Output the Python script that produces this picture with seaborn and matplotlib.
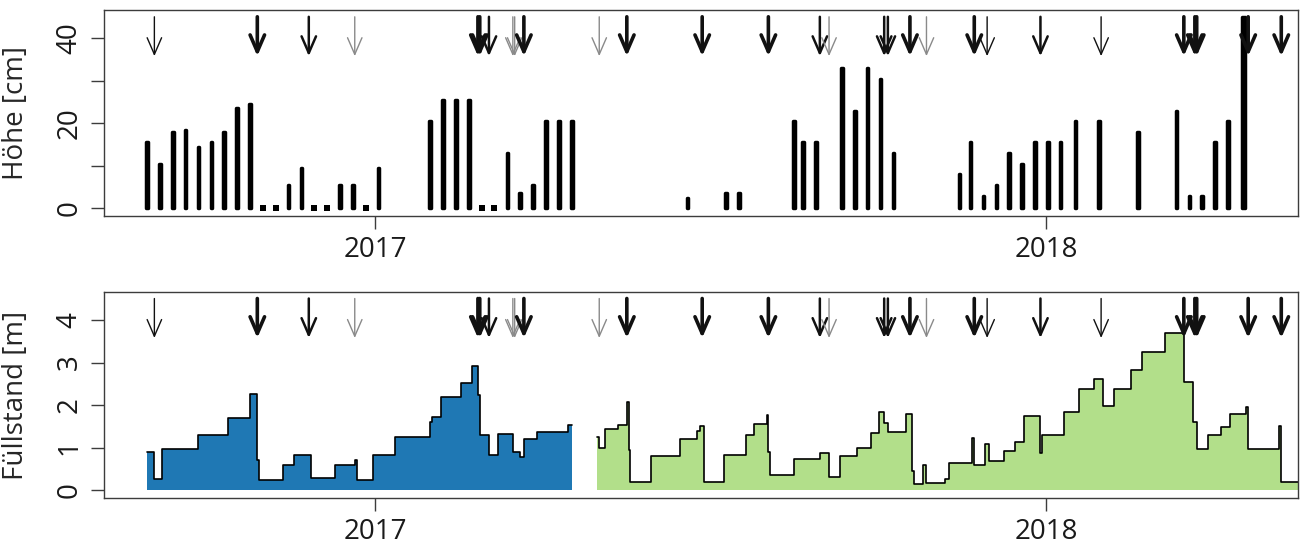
import matplotlib
matplotlib.use("Agg")
import matplotlib.pyplot as plt
import matplotlib.dates as mdates
import matplotlib.transforms as mtransforms
import numpy as np
import pandas as pd
import seaborn as sns

# Weekly snow depth readings [cm]
snow_dates = [
    "2016-08-30", "2016-09-06", "2016-09-13", "2016-09-20", "2016-09-27",
    "2016-10-04", "2016-10-11", "2016-10-18", "2016-10-25", "2016-11-01",
    "2016-11-08", "2016-11-15", "2016-11-22", "2016-11-29", "2016-12-06",
    "2016-12-13", "2016-12-20", "2016-12-27", "2017-01-03",
    "2017-01-31", "2017-02-07", "2017-02-14", "2017-02-21", "2017-02-28",
    "2017-03-07", "2017-03-14", "2017-03-21", "2017-03-28", "2017-04-04",
    "2017-04-11", "2017-04-18",
    "2017-06-20", "2017-07-11", "2017-07-18", "2017-08-17", "2017-08-22",
    "2017-08-29", "2017-09-12", "2017-09-19", "2017-09-26", "2017-10-03",
    "2017-10-10", "2017-11-15", "2017-11-21", "2017-11-28", "2017-12-05",
    "2017-12-12", "2017-12-19", "2017-12-26", "2018-01-02", "2018-01-09",
    "2018-01-17", "2018-01-30", "2018-02-20", "2018-03-13", "2018-03-20",
    "2018-03-27", "2018-04-03", "2018-04-10", "2018-04-18", "2018-04-19",
]
snow_depth = [
    15.5, 10.5, 18, 18.5, 14.5,
    15.5, 18, 23.5, 24.5, 0,
    0, 5.5, 9.5, 0, 0,
    5.5, 5.5, 0, 9.5,
    20.5, 25.5, 25.5, 25.5, 0,
    0, 13, 3.5, 5.5, 20.5,
    20.5, 20.5,
    2.5, 3.5, 3.5, 20.5, 15.5,
    15.5, 33, 23, 33, 30.5,
    13, 8, 15.5, 3, 5.5,
    13, 10.5, 15.5, 15.5, 15.5,
    20.5, 20.5, 18, 23, 3,
    3, 15.5, 20.5, 45, 45,
]

# Fill level [m], first season (step series)
level1_dates = [
    "2016-08-30", "2016-09-03", "2016-09-07", "2016-09-27", "2016-10-13",
    "2016-10-25", "2016-10-29", "2016-10-30", "2016-11-12", "2016-11-18",
    "2016-11-27", "2016-12-10", "2016-12-21", "2016-12-22", "2016-12-31",
    "2017-01-12", "2017-01-31", "2017-02-01", "2017-02-06", "2017-02-17",
    "2017-02-23", "2017-02-26", "2017-02-27", "2017-03-04", "2017-03-09",
    "2017-03-17", "2017-03-21", "2017-03-23", "2017-03-30", "2017-04-16",
    "2017-04-18",
]
level1 = [
    0.90, 0.26, 0.96, 1.29, 1.69,
    2.27, 0.71, 0.24, 0.60, 0.83,
    0.29, 0.60, 0.71, 0.24, 0.83,
    1.25, 1.61, 1.72, 2.20, 2.52,
    2.92, 2.24, 1.29, 0.83, 1.31,
    0.90, 0.78, 1.19, 1.37, 1.53,
    1.53,
]

# Fill level [m], second season (step series)
level2_dates = [
    "2017-05-02", "2017-05-03", "2017-05-06", "2017-05-13", "2017-05-18",
    "2017-05-19", "2017-05-20", "2017-05-31", "2017-06-16", "2017-06-25",
    "2017-06-27", "2017-06-29", "2017-07-10", "2017-07-22", "2017-07-26",
    "2017-08-02", "2017-08-03", "2017-08-04", "2017-08-17", "2017-08-31",
    "2017-09-05", "2017-09-11", "2017-09-20", "2017-09-28", "2017-10-02",
    "2017-10-05", "2017-10-07", "2017-10-17", "2017-10-20", "2017-10-21",
    "2017-10-26", "2017-10-28", "2017-11-07", "2017-11-09", "2017-11-22",
    "2017-11-23", "2017-11-29", "2017-12-01", "2017-12-09", "2017-12-15",
    "2017-12-20", "2017-12-29", "2017-12-30", "2018-01-11", "2018-01-19",
    "2018-01-27", "2018-02-01", "2018-02-07", "2018-02-16", "2018-02-22",
    "2018-03-07", "2018-03-17", "2018-03-22", "2018-03-24", "2018-03-30",
    "2018-04-06", "2018-04-11", "2018-04-20", "2018-04-21", "2018-05-08",
    "2018-05-09", "2018-05-18",
]
level2 = [
    1.25, 0.98, 1.43, 1.54, 2.08,
    0.94, 0.18, 0.80, 1.21, 1.40,
    1.51, 0.18, 0.82, 1.29, 1.55,
    1.76, 0.90, 0.35, 0.72, 0.88,
    0.31, 0.81, 1.00, 1.35, 1.84,
    1.58, 1.37, 1.80, 0.45, 0.13,
    0.59, 0.16, 0.25, 0.64, 1.22,
    0.60, 1.08, 0.68, 0.92, 1.12,
    1.73, 0.86, 1.29, 1.84, 2.38,
    2.61, 1.98, 2.38, 2.82, 3.25,
    3.69, 2.55, 1.61, 0.96, 1.29,
    1.49, 1.79, 1.95, 0.96, 1.51,
    0.20, 0.20,
]

# Events marked with arrows; class sets the arrow weight
event_dates = [
    "2016-09-03", "2016-10-29", "2016-11-26", "2016-12-21", "2017-02-26",
    "2017-02-27", "2017-03-04", "2017-03-17", "2017-03-18", "2017-03-23",
    "2017-05-03", "2017-05-18", "2017-06-28", "2017-08-03", "2017-08-31",
    "2017-09-05", "2017-10-05", "2017-10-07", "2017-10-19", "2017-10-28",
    "2017-11-23", "2017-11-30", "2017-12-29", "2018-01-31", "2018-03-17",
    "2018-03-23", "2018-03-24", "2018-04-21", "2018-05-09",
]
event_class = [
    "b", "d", "c", "a", "d",
    "d", "c", "a", "a", "d",
    "a", "d", "d", "d", "c",
    "a", "c", "c", "d", "a",
    "d", "b", "c", "b", "d",
    "d", "d", "d", "d",
]

year_ticks = ["2017-01-01", "2018-01-01"]
year_labels = ["2017", "2018"]

arrow_styles = {
    "a": ("#8a8a8a", 1.0),
    "b": ("#111111", 1.0),
    "c": ("#111111", 1.8),
    "d": ("#111111", 2.6),
}

sns.set_style("ticks")
plt.rcParams["font.family"] = ["Open Sans", "DejaVu Sans"]
plt.rcParams["font.size"] = 20


def num(dates):
    return mdates.date2num(pd.to_datetime(dates))


origin = num(["2017-01-01"])[0]
x_lim = (origin - 147.4, origin + 502.1)
axis_col = "#3c3c3c"

fig = plt.figure(figsize=(13.01, 5.44), dpi=100)
ax1 = fig.add_axes([104 / 1301, 1 - 216 / 544, 1194 / 1301, 206 / 544])
ax2 = fig.add_axes([104 / 1301, 1 - 498.3 / 544, 1194 / 1301, 206.6 / 544])

# Snow depth bars drawn as thick strokes; zero readings show as small dots
xs = num(snow_dates)
depth = np.asarray(snow_depth, dtype=float)
ax1.bar(xs, depth, width=0.9, color="black",
        edgecolor="black", linewidth=2.5, joinstyle="round", zorder=2)
zero = depth == 0
ax1.scatter(xs[zero], depth[zero], marker="s", s=13, color="black",
            linewidths=0, zorder=2)

# Fill level: filled step areas with a black outline
x1, x2 = num(level1_dates), num(level2_dates)
ax2.fill_between(x1, level1, 0, step="post", color="#1F78B4", linewidth=0, zorder=1)
ax2.fill_between(x2, level2, 0, step="post", color="#B2DF8A", linewidth=0, zorder=1)
sns.lineplot(x=x1, y=level1, ax=ax2, color="black", linewidth=1.2,
             drawstyle="steps-post", sort=False, estimator=None, zorder=2)
sns.lineplot(x=x2, y=level2, ax=ax2, color="black", linewidth=1.2,
             drawstyle="steps-post", sort=False, estimator=None, zorder=2)

# Event arrows in both panels
ex = num(event_dates)
for ax in (ax1, ax2):
    trans = mtransforms.blended_transform_factory(ax.transData, ax.transAxes)
    for xv, cls in zip(ex, event_class):
        col, lw = arrow_styles[cls]
        ax.annotate("", xy=(xv, 0.776), xytext=(xv, 0.967),
                    xycoords=trans, textcoords=trans,
                    arrowprops=dict(arrowstyle="->,head_length=0.6,head_width=0.26",
                                    color=col, lw=lw, shrinkA=0, shrinkB=0),
                    zorder=3)

ax1.set_ylim(-1.81, 46.66)
ax2.set_ylim(-0.195, 4.666)
ax1.set_yticks([0, 10, 20, 30, 40])
ax1.set_yticklabels(["0", "", "20", "", "40"])
ax2.set_yticks([0, 1, 2, 3, 4])
ax2.set_yticklabels(["0", "1", "2", "3", "4"])
ax1.set_ylabel("Höhe [cm]", fontsize=20)
ax2.set_ylabel("Füllstand [m]", fontsize=20)

for ax in (ax1, ax2):
    ax.set_xlim(*x_lim)
    ax.set_xticks(num(year_ticks))
    ax.set_xticklabels(year_labels)
    for s in ax.spines.values():
        s.set_visible(True)
        s.set_color(axis_col)
        s.set_linewidth(1.0)
    ax.tick_params(axis="both", direction="out", length=9.5, width=1.0,
                   color=axis_col, labelcolor="#1a1a1a", labelsize=20)
    ax.tick_params(axis="x", pad=5)
    ax.tick_params(axis="y", pad=5, labelrotation=90)
    for lab in ax.get_yticklabels():
        lab.set_va("center")
    ax.yaxis.set_label_coords(-0.062, 0.5)
    ax.set_xlabel("")

fig.savefig("out.png", dpi=100)
